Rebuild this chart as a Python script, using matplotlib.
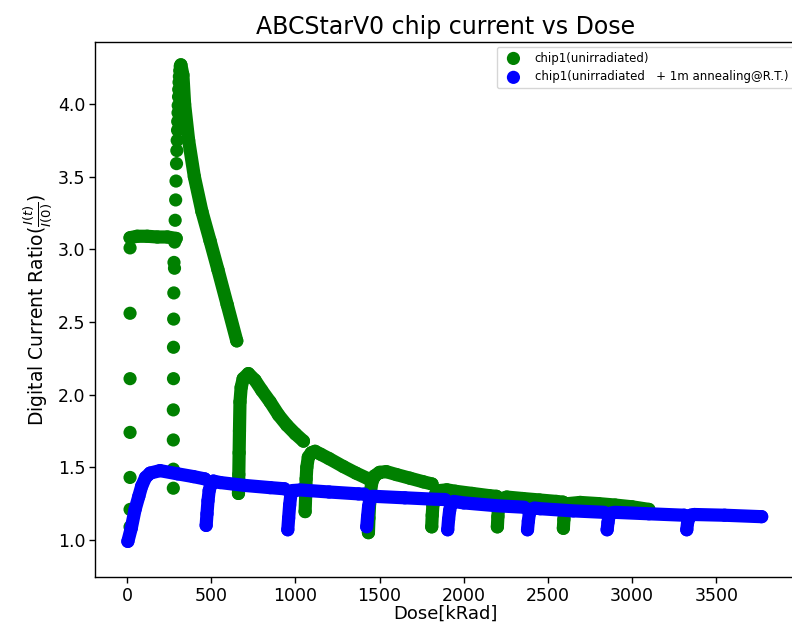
import numpy as np
import matplotlib.pyplot as plt

# chip1 (unirradiated): isolated points of the two dotted columns at the start
green_dot_dose = [18, 18, 18, 18, 18, 18, 18,
                  275, 275, 275, 275, 276, 276, 277, 278, 282, 279,
                  283, 286, 289, 291, 294, 296, 298, 300, 301, 303,
                  304, 306, 307, 309, 311, 313, 316]
green_dot_ratio = [1.09, 1.21, 1.43, 1.74, 2.11, 2.56, 3.01,
                   1.356, 1.487, 1.688, 1.895, 2.11, 2.326, 2.52, 2.70, 2.87, 2.91,
                   3.05, 3.20, 3.34, 3.47, 3.59, 3.68, 3.75, 3.82, 3.88, 3.94,
                   3.99, 4.05, 4.10, 4.15, 4.19, 4.23, 4.26]

# chip1 (unirradiated): dense runs between the drops
green_run_dose = [
    [18, 60, 120, 180, 240, 292],
    [320, 332, 342, 366, 400, 445, 493, 540, 595, 652],
    [662, 664, 666, 668, 671, 678, 690, 721, 760, 800, 850, 900, 949, 1000, 1048],
    [1058, 1061, 1064, 1068, 1077, 1095, 1117, 1150, 1200, 1285, 1360, 1434],
    [1434, 1437, 1441, 1446, 1455, 1470, 1500, 1540, 1600, 1680, 1760, 1812],
    [1810, 1813, 1817, 1823, 1835, 1860, 1900, 1950, 2050, 2150, 2195],
    [2200, 2203, 2207, 2214, 2228, 2256, 2350, 2450, 2550, 2590],
    [2592, 2595, 2600, 2607, 2620, 2692, 2800, 2900, 3000, 3100],
]
green_run_ratio = [
    [3.08, 3.09, 3.09, 3.085, 3.085, 3.075],
    [4.27, 4.20, 4.00, 3.75, 3.50, 3.26, 3.06, 2.86, 2.62, 2.37],
    [1.32, 1.45, 1.60, 1.75, 1.95, 2.05, 2.11, 2.145, 2.10, 2.03, 1.95, 1.86, 1.79, 1.73, 1.68],
    [1.195, 1.30, 1.42, 1.50, 1.57, 1.60, 1.61, 1.59, 1.56, 1.505, 1.46, 1.42],
    [1.05, 1.15, 1.25, 1.33, 1.40, 1.44, 1.465, 1.47, 1.45, 1.425, 1.40, 1.385],
    [1.09, 1.17, 1.24, 1.29, 1.32, 1.34, 1.345, 1.335, 1.32, 1.305, 1.30],
    [1.09, 1.16, 1.22, 1.26, 1.285, 1.295, 1.285, 1.275, 1.265, 1.26],
    [1.08, 1.14, 1.20, 1.235, 1.25, 1.258, 1.25, 1.24, 1.228, 1.21],
]

# chip1 (unirradiated + 1m annealing@R.T.)
blue_run_dose = [
    [5, 25, 48, 70, 87, 110, 137, 196, 300, 394, 462],
    [470, 475, 481, 488, 498, 513, 553, 700, 850, 935],
    [955, 960, 966, 973, 985, 1030, 1200, 1375, 1410],
    [1424, 1429, 1435, 1443, 1455, 1470, 1650, 1830, 1890],
    [1905, 1910, 1916, 1925, 1940, 2000, 2200, 2360],
    [2379, 2384, 2390, 2400, 2420, 2454, 2650, 2835],
    [2852, 2857, 2863, 2873, 2895, 3100, 3310],
    [3325, 3330, 3337, 3348, 3370, 3550, 3770],
]
blue_run_ratio = [
    [0.99, 1.08, 1.21, 1.30, 1.37, 1.43, 1.46, 1.477, 1.455, 1.436, 1.42],
    [1.10, 1.18, 1.27, 1.34, 1.38, 1.405, 1.395, 1.375, 1.36, 1.352],
    [1.07, 1.15, 1.24, 1.31, 1.34, 1.344, 1.33, 1.317, 1.315],
    [1.09, 1.16, 1.23, 1.28, 1.30, 1.30, 1.29, 1.28, 1.278],
    [1.07, 1.14, 1.20, 1.25, 1.265, 1.255, 1.235, 1.225],
    [1.07, 1.13, 1.18, 1.21, 1.22, 1.215, 1.20, 1.19],
    [1.07, 1.12, 1.16, 1.185, 1.19, 1.18, 1.17],
    [1.07, 1.12, 1.15, 1.17, 1.175, 1.17, 1.16],
]

green_label = 'chip1(unirradiated)'
blue_label = 'chip1(unirradiated   + 1m annealing@R.T.)'

dot_size = 90      # marker area in pt^2 (about 9.5 pt wide)
band_width = 9.5   # the dense runs are drawn as a band as wide as a dot

fig = plt.figure(figsize=(7.92, 6.26), dpi=100)
ax = fig.add_axes([0.12, 0.0783, 0.884, 0.8546])

def draw_series(runs_x, runs_y, color, label, dots_x=(), dots_y=()):
    for xs, ys in zip(runs_x, runs_y):
        ax.plot(xs, ys, '-', color=color, lw=band_width,
                solid_capstyle='round', solid_joinstyle='round')
    all_x = np.concatenate([np.array(dots_x, dtype=float)] + [np.array(r, dtype=float) for r in runs_x])
    all_y = np.concatenate([np.array(dots_y, dtype=float)] + [np.array(r, dtype=float) for r in runs_y])
    ax.scatter(all_x, all_y, s=dot_size, color=color, edgecolors='none', label=label)

draw_series(green_run_dose, green_run_ratio, 'green', green_label, green_dot_dose, green_dot_ratio)
draw_series(blue_run_dose, blue_run_ratio, 'blue', blue_label)

ax.set_xlim(-190, 3969)
ax.set_ylim(0.745, 4.427)
ax.set_xticks([0, 500, 1000, 1500, 2000, 2500, 3000, 3500])
ax.set_yticks([1.0, 1.5, 2.0, 2.5, 3.0, 3.5, 4.0])
ax.tick_params(labelsize=12.5, length=4.5, width=1, pad=2.5)
for sp in ax.spines.values():
    sp.set_linewidth(1)

ax.set_title('ABCStarV0 chip current vs Dose', fontsize=17)
ax.set_xlabel('Dose[kRad]', fontsize=13, labelpad=0)
ax.set_ylabel(r'Digital Current Ratio($\frac{I(t)}{I(0)}$)', fontsize=13.5, labelpad=3)

ax.legend(loc='upper left', bbox_to_anchor=(0.574, 0.991), fontsize=8.5,
          scatterpoints=1, borderaxespad=0)

fig.savefig('out.png', dpi=100)
